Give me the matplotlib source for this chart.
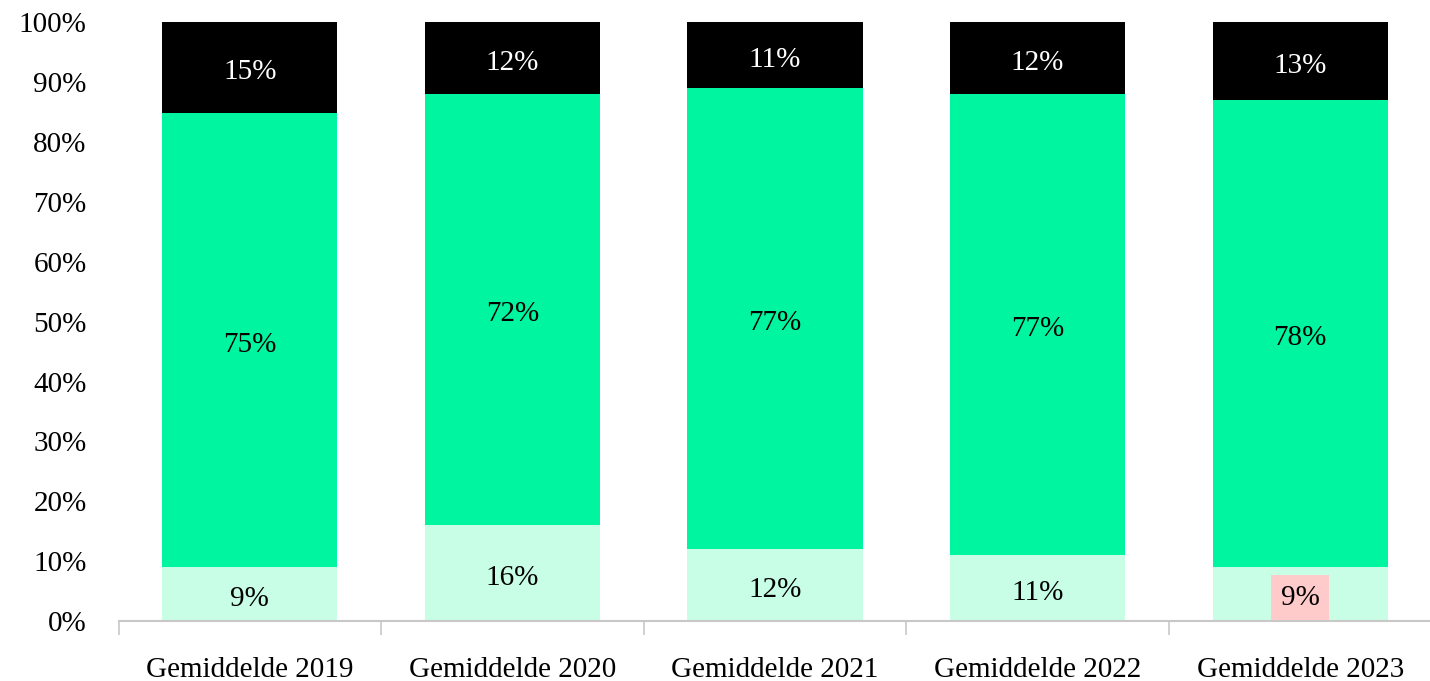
import numpy as np
from matplotlib import pyplot as plt
from matplotlib.ticker import FixedLocator, PercentFormatter

plt.rcParams['font.family'] = ['Liberation Serif', 'DejaVu Serif']

categories = ["Gemiddelde 2019", "Gemiddelde 2020", "Gemiddelde 2021",
              "Gemiddelde 2022", "Gemiddelde 2023"]
bottom_vals = [9, 16, 12, 11, 9]
middle_vals = [75, 72, 77, 77, 78]
top_vals = [15, 12, 11, 12, 13]

c_bottom = "#c8fde6"
c_middle = "#00f5a0"
c_top = "#000000"

# 100% gestapeld
raw = np.array([bottom_vals, middle_vals, top_vals], dtype=float)
share = raw / raw.sum(axis=0) * 100

fig = plt.figure(figsize=(14.3, 6.81), dpi=100)
ax = fig.add_axes([118.5 / 1430, 60 / 681, 1313 / 1430, 598.7 / 681])

x = np.arange(len(categories))
w = 0.667
fs = 21

base = np.zeros(len(categories))
for vals, rvals, col, tcol in zip(share, raw, [c_bottom, c_middle, c_top],
                                  ["black", "black", "white"]):
    ax.bar(x, vals, width=w, bottom=base, color=col, linewidth=0)
    for i in range(len(x)):
        ax.text(x[i], base[i] + vals[i] / 2 - 0.8, "%d%%" % rvals[i],
                ha="center", va="center", fontsize=fs, color=tcol)
    base = base + vals

# gemarkeerd label 2023
ax.texts[4].set_bbox(dict(boxstyle="square,pad=0.33", facecolor="#ffcaca",
                          edgecolor="none"))
ax.texts[4].set_y(share[0][4] / 2 - 0.6)

ax.set_xlim(-0.5, 4.5)
ax.set_ylim(0, 100)
ax.set_yticks(np.arange(0, 101, 10))
ax.yaxis.set_major_formatter(PercentFormatter(decimals=0))
ax.tick_params(axis="y", length=0, pad=23, labelsize=fs)

ax.set_xticks(x)
ax.set_xticklabels(categories)
ax.xaxis.set_minor_locator(FixedLocator(np.arange(-0.5, 5, 1)))
ax.tick_params(axis="x", which="major", length=0, pad=26, labelsize=fs)
ax.tick_params(axis="x", which="minor", length=10, width=1.2, color="#c8c8c8")

for s in ["top", "right", "left"]:
    ax.spines[s].set_visible(False)
ax.spines["bottom"].set_color("#c8c8c8")
ax.spines["bottom"].set_linewidth(1.5)

fig.savefig("out.png", dpi=100)
